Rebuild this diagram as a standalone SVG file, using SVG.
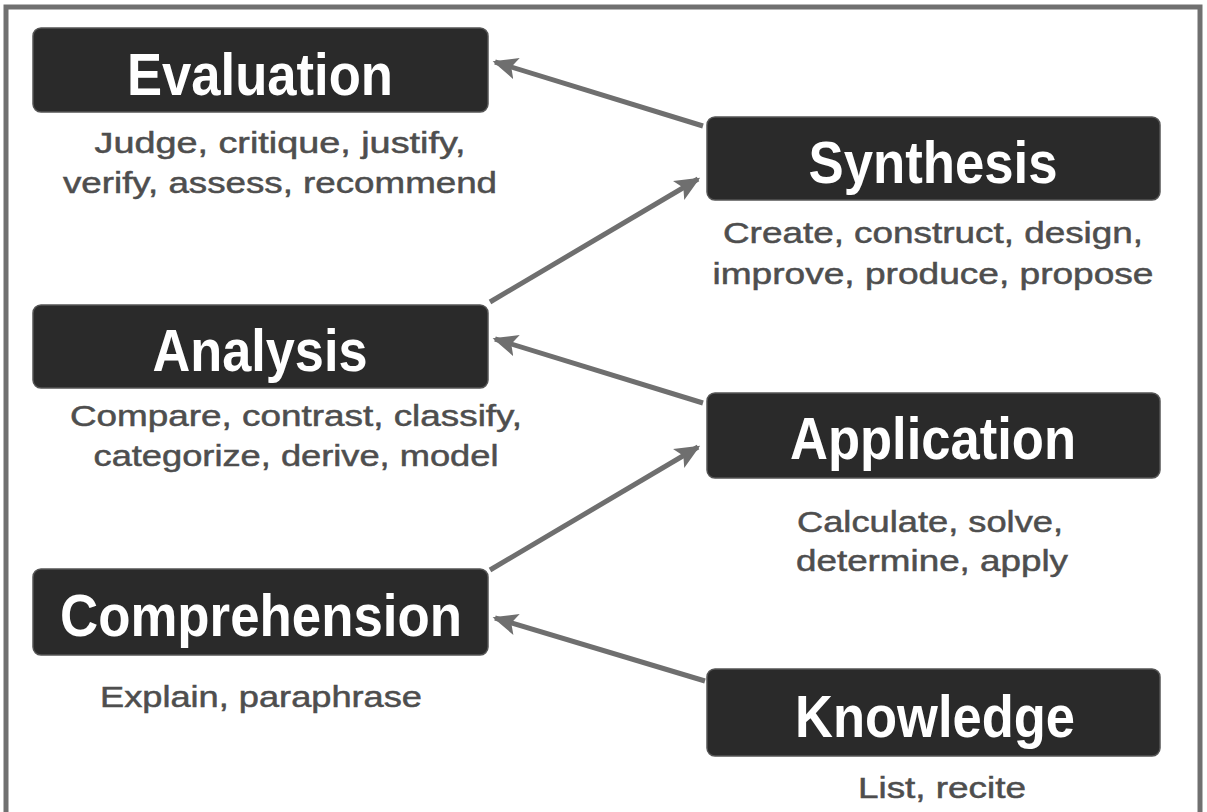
<svg xmlns="http://www.w3.org/2000/svg" width="1207" height="812" viewBox="0 0 1207 812">
<defs>
<marker id="ah" markerWidth="6" markerHeight="6" refX="4.5" refY="3" orient="auto" markerUnits="strokeWidth">
<path d="M0,0.8 L5,3 L0,5.2 L1.1,3 Z" fill="#6f6f6f"/>
</marker>
<style>
.box{fill:#2a2a2a;stroke:#555;stroke-width:1.5}
.title{font-family:"Liberation Sans",Arial,sans-serif;font-weight:bold;font-size:60px;fill:#ffffff;text-anchor:middle}
.sub{font-family:"Liberation Sans",Arial,sans-serif;font-size:29px;fill:#4e4e4e;stroke:#4e4e4e;stroke-width:0.5;text-anchor:middle}
.conn{stroke:#6f6f6f;stroke-width:5;fill:none;marker-end:url(#ah)}
</style>
</defs>
<rect x="0" y="0" width="1207" height="812" fill="#ffffff"/>
<rect x="6" y="7" width="1194" height="830" fill="none" stroke="#707070" stroke-width="5"/>
<g id="connectors">
<line class="conn" x1="703" y1="126" x2="495" y2="62"/>
<line class="conn" x1="490" y1="302" x2="698" y2="179"/>
<line class="conn" x1="703" y1="403" x2="495" y2="339"/>
<line class="conn" x1="490" y1="570" x2="698" y2="447"/>
<line class="conn" x1="705" y1="681" x2="495" y2="618"/>
</g>
<g id="evaluation">
<rect class="box" x="33" y="28" width="455" height="84" rx="8"/>
<text class="title" x="260" y="95" textLength="266" lengthAdjust="spacingAndGlyphs">Evaluation</text>
<text class="sub" x="280" y="153" textLength="371" lengthAdjust="spacingAndGlyphs">Judge, critique, justify,</text>
<text class="sub" x="280" y="193" textLength="434" lengthAdjust="spacingAndGlyphs">verify, assess, recommend</text>
</g>
<g id="synthesis">
<rect class="box" x="707" y="117" width="453" height="83" rx="8"/>
<text class="title" x="933" y="183" textLength="249" lengthAdjust="spacingAndGlyphs">Synthesis</text>
<text class="sub" x="933" y="243" textLength="420" lengthAdjust="spacingAndGlyphs">Create, construct, design,</text>
<text class="sub" x="933" y="284" textLength="441" lengthAdjust="spacingAndGlyphs">improve, produce, propose</text>
</g>
<g id="analysis">
<rect class="box" x="33" y="305" width="455" height="83" rx="8"/>
<text class="title" x="260" y="371" textLength="215" lengthAdjust="spacingAndGlyphs">Analysis</text>
<text class="sub" x="296" y="426" textLength="452" lengthAdjust="spacingAndGlyphs">Compare, contrast, classify,</text>
<text class="sub" x="296" y="466" textLength="405" lengthAdjust="spacingAndGlyphs">categorize, derive, model</text>
</g>
<g id="application">
<rect class="box" x="707" y="393" width="453" height="85" rx="8"/>
<text class="title" x="933" y="459" textLength="286" lengthAdjust="spacingAndGlyphs">Application</text>
<text class="sub" x="930" y="532" textLength="266" lengthAdjust="spacingAndGlyphs">Calculate, solve,</text>
<text class="sub" x="932" y="571" textLength="272" lengthAdjust="spacingAndGlyphs">determine, apply</text>
</g>
<g id="comprehension">
<rect class="box" x="33" y="569" width="455" height="86" rx="8"/>
<text class="title" x="261" y="636" textLength="402" lengthAdjust="spacingAndGlyphs">Comprehension</text>
<text class="sub" x="261" y="707" textLength="322" lengthAdjust="spacingAndGlyphs">Explain, paraphrase</text>
</g>
<g id="knowledge">
<rect class="box" x="707" y="669" width="453" height="87" rx="8"/>
<text class="title" x="935" y="737" textLength="280" lengthAdjust="spacingAndGlyphs">Knowledge</text>
<text class="sub" x="942" y="798" textLength="168" lengthAdjust="spacingAndGlyphs">List, recite</text>
</g>
</svg>
